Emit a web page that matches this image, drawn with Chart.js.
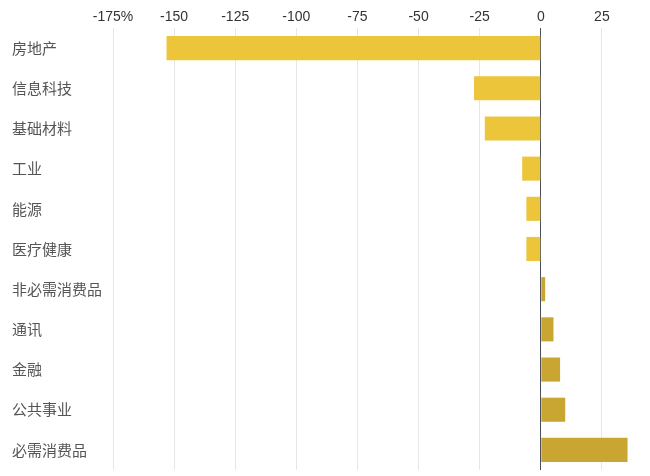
<!DOCTYPE html>
<html>
<head>
<meta charset="utf-8">
<script src="https://cdn.jsdelivr.net/npm/chart.js@4"></script>
<style>
  html, body { margin: 0; padding: 0; background: #fff; overflow: hidden; }
  #wrap { width: 700px; height: 482px; }
</style>
</head>
<body>
<div id="wrap"><canvas id="chart"></canvas></div>
<script>
// sectors and their values (%)
const sectors = ["房地产", "信息科技", "基础材料", "工业", "能源", "医疗健康",
  "非必需消费品", "通讯", "金融", "公共事业", "必需消费品"];
const values = [-153.1, -27.3, -22.9, -7.6, -5.9, -5.9, 1.8, 5.2, 7.9, 10.0, 35.5];
const xTicks = [-175, -150, -125, -100, -75, -50, -25, 0, 25, 50];

const NEG_COLOR = "#edc53b";
const POS_COLOR = "#c9a631";

const barColors = values.map((v) => (v < 0 ? NEG_COLOR : POS_COLOR));

new Chart(document.getElementById("chart"), {
  type: "bar",
  data: {
    labels: sectors,
    datasets: [
      {
        data: values,
        backgroundColor: barColors,
        borderWidth: 0,
        barPercentage: 0.6,
        categoryPercentage: 1,
      },
    ],
  },
  options: {
    indexAxis: "y",
    responsive: true,
    maintainAspectRatio: false,
    animation: false,
    layout: { padding: { left: 12, right: 37, top: 0, bottom: 0 } },
    plugins: {
      legend: { display: false },
      tooltip: { enabled: false },
    },
    scales: {
      x: {
        position: "top",
        min: -175,
        max: 50,
        afterBuildTicks: (scale) => {
          scale.ticks = xTicks.map((v) => ({ value: v }));
        },
        afterFit: (scale) => {
          scale.height = 28;
        },
        border: { display: false },
        grid: {
          drawTicks: false,
          color: (ctx) => (ctx.tick && ctx.tick.value === 0 ? "#4a4f5a" : "#e6e6e6"),
          lineWidth: 1,
        },
        ticks: {
          padding: 2,
          maxRotation: 0,
          color: "#333",
          font: { family: "'Liberation Sans', Arial", size: 14 },
          callback: (v) => (v === -175 ? v + "%" : v),
        },
      },
      y: {
        afterFit: (scale) => {
          scale.width = 101;
        },
        border: { display: false },
        grid: { display: false, drawTicks: false },
        ticks: {
          crossAlign: "far",
          color: "#555",
          font: { family: "'Noto Sans CJK SC', sans-serif", size: 15 },
        },
      },
    },
  },
});
</script>
</body>
</html>
